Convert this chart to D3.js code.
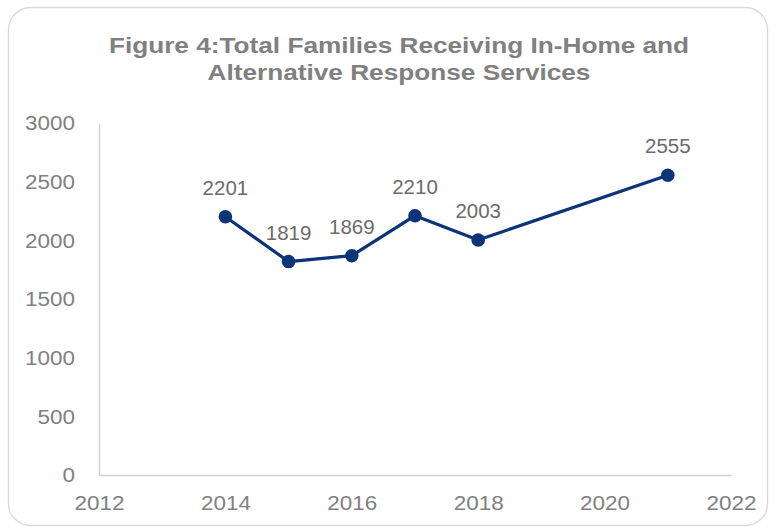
<!DOCTYPE html>
<html>
<head>
<meta charset="utf-8">
<script src="https://d3js.org/d3.v7.min.js"></script>
<style>
  html, body { margin: 0; padding: 0; background: #fff; }
  svg { display: block; font-family: "Liberation Sans", Arial, sans-serif; }
</style>
</head>
<body>
<svg id="chart" width="776" height="531"></svg>
<script>
// Families receiving in-home and alternative response services, by year
const years = [2014, 2015, 2016, 2017, 2018, 2021];
const families = [2201, 1819, 1869, 2210, 2003, 2555];
const xTicks = [2012, 2014, 2016, 2018, 2020, 2022];
const yTicks = [0, 500, 1000, 1500, 2000, 2500, 3000];
const titleLines = ["Figure 4:Total Families Receiving In-Home and", "Alternative Response Services"];

const svg = d3.select("#chart");
const W = 776, H = 531;
const plot = { left: 99, right: 731, top: 123, bottom: 475 };
const FONT = "'Liberation Sans', Arial, sans-serif";

// Text in this chart is set slightly wide; stretch a text node horizontally about its anchor
function widen(sel, sx) {
  sel.each(function () {
    const t = d3.select(this);
    const x0 = +t.attr("x") || 0;
    const y0 = +t.attr("y") || 0;
    t.attr("x", 0).attr("y", 0)
     .attr("transform", `translate(${x0},${y0}) scale(${sx},1)`);
  });
}

// Outer rounded frame
svg.append("rect")
  .attr("x", 8.5).attr("y", 7.5)
  .attr("width", W - 17).attr("height", H - 13)
  .attr("rx", 22).attr("ry", 22)
  .attr("fill", "#fff")
  .attr("stroke", "#d9d9d9")
  .attr("stroke-width", 1.3);

// Title
svg.append("g").selectAll("text").data(titleLines).join("text")
  .attr("x", 399)
  .attr("y", (d, i) => 53 + i * 27.3)
  .attr("text-anchor", "middle")
  .attr("font-size", 22.5).attr("font-weight", "bold")
  .attr("fill", "#808080")
  .text(d => d)
  .call(widen, 1.165);

const x = d3.scaleLinear().domain([2012, 2022]).range([plot.left, plot.right]);
const y = d3.scaleLinear().domain([0, 3000]).range([plot.bottom, plot.top]);

// Y axis
const yAxis = svg.append("g")
  .attr("transform", `translate(${plot.left},0)`)
  .call(d3.axisLeft(y).tickValues(yTicks).tickSize(0).tickPadding(24).tickFormat(d3.format("d")));
yAxis.select(".domain").attr("stroke", "#d0d0d0").attr("stroke-width", 1.3);
yAxis.selectAll("text").attr("font-size", 21).attr("fill", "#808080")
  .attr("font-family", FONT).call(widen, 1.07);

// X axis
const xAxis = svg.append("g")
  .attr("transform", `translate(0,${plot.bottom})`)
  .call(d3.axisBottom(x).tickValues(xTicks).tickSize(0).tickPadding(20).tickFormat(d3.format("d")));
xAxis.select(".domain").attr("stroke", "#d0d0d0").attr("stroke-width", 1.3);
xAxis.selectAll("text").attr("font-size", 21).attr("fill", "#808080")
  .attr("font-family", FONT).call(widen, 1.07);

const data = years.map((yr, i) => ({ yr, v: families[i] }));

// Series line
svg.append("path")
  .datum(data)
  .attr("fill", "none")
  .attr("stroke", "#0c3479")
  .attr("stroke-width", 3.2)
  .attr("stroke-linejoin", "round")
  .attr("d", d3.line().x(d => x(d.yr)).y(d => y(d.v)));

// Markers
svg.append("g").selectAll("circle").data(data).join("circle")
  .attr("cx", d => x(d.yr)).attr("cy", d => y(d.v))
  .attr("r", 6.8)
  .attr("fill", "#0c3479");

// Value labels
svg.append("g").selectAll("text").data(data).join("text")
  .attr("x", d => x(d.yr))
  .attr("y", d => y(d.v) - 22)
  .attr("text-anchor", "middle")
  .attr("font-size", 20.5)
  .attr("fill", "#6b6b6b")
  .text(d => d.v);
</script>
</body>
</html>
